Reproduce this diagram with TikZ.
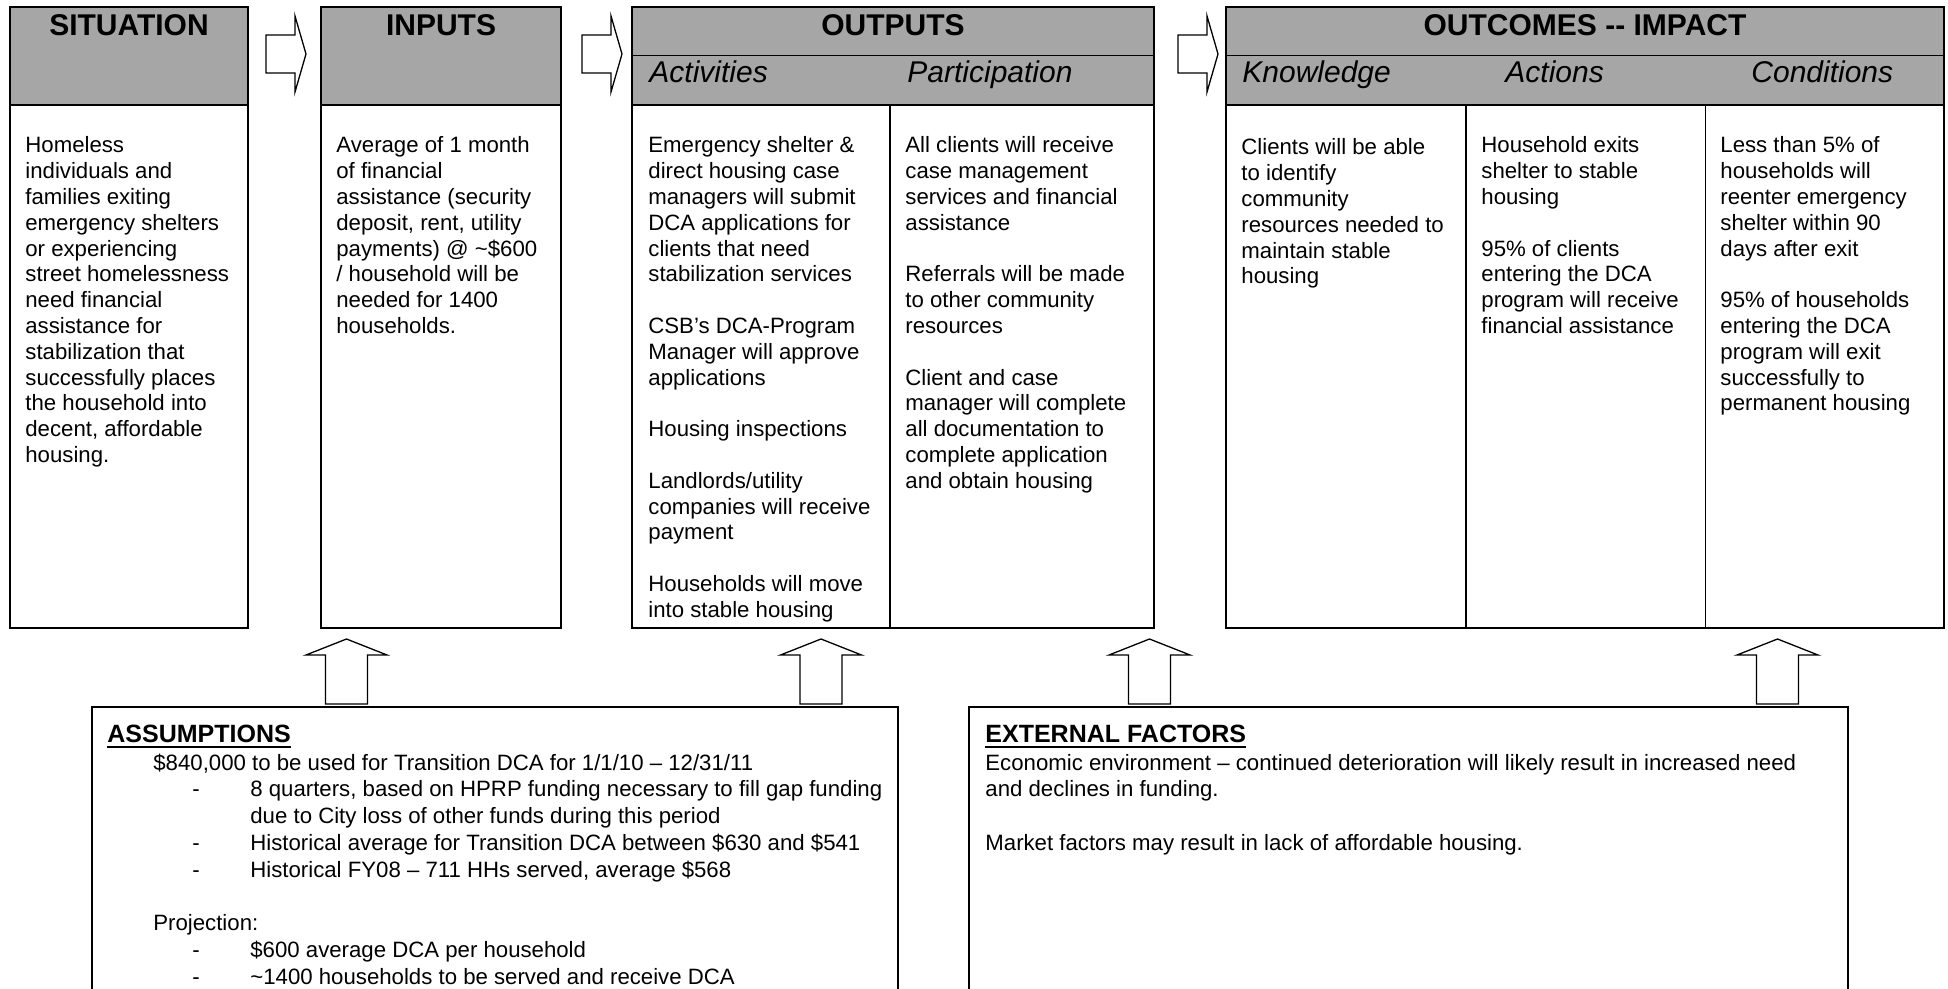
\documentclass[tikz,border=0pt]{standalone}
\usepackage{fontspec}
\setmainfont{Liberation Sans}
\definecolor{headgray}{RGB}{166,166,166}
\newcommand\BodyFnt{\fontsize{11.1pt}{12.9pt}\selectfont}
\newcommand\NoteFnt{\fontsize{11.1pt}{13.4pt}\selectfont}
\newcommand\HeadFnt{\fontsize{15pt}{18pt}\selectfont\bfseries}
\newcommand\SubFnt{\fontsize{15pt}{18pt}\selectfont\itshape}
\newcommand\NoteHeadFnt{\fontsize{12.5pt}{15pt}\selectfont\bfseries}
\newcommand\Dash{\makebox[29pt][l]{-}}

\begin{document}
\begin{tikzpicture}[x=0.5pt,y=-0.5pt,
  boxframe/.style={draw=black, line width=1pt},
  colrule/.style={draw=black, line width=0.9pt},
  blockarrow/.style={draw=black, line width=0.65pt, fill=white, line join=miter},
  headtitle/.style={anchor=base, inner sep=0pt, font=\HeadFnt},
  subhead/.style={anchor=base west, inner sep=0pt, font=\SubFnt},
  bodytext/.style={anchor=base west, inner sep=0pt, font=\BodyFnt},
  notetext/.style={anchor=base west, inner sep=0pt, font=\NoteFnt},
  notehead/.style={anchor=base west, inner sep=0pt, font=\NoteHeadFnt},
  rblock/.pic={\draw[blockarrow] (0,35) -- (29,35) -- (29,16) -- (40,54) -- (29,92) -- (29,73) -- (0,73) -- cycle;},
  ublock/.pic={\draw[blockarrow] (0,0) -- (40.5,16) -- (21,16) -- (21,65) -- (-21,65) -- (-21,16) -- (-40.5,16) -- cycle;}
]
\useasboundingbox[fill=white] (0,0) rectangle (1948,989);

% grey header bands
\fill[headgray] (10,7.5) rectangle (248,105);
\fill[headgray] (321,7.5) rectangle (561,105);
\fill[headgray] (632,7.5) rectangle (1154,105);
\fill[headgray] (1226,7.5) rectangle (1944,105);

% column frames of the logic model
\draw[boxframe] (10,7.5) rectangle (248,627.5);
\draw[boxframe] (321,7.5) rectangle (561,627.5);
\draw[boxframe] (632,7.5) rectangle (1154,627.5);
\draw[boxframe] (1226,7.5) rectangle (1944,627.5);
\draw[colrule] (10,105) -- (248,105);
\draw[colrule] (321,105) -- (561,105);
\draw[colrule] (632,55.5) -- (1154,55.5);
\draw[colrule] (632,105) -- (1154,105);
\draw[colrule] (1226,55.5) -- (1944,55.5);
\draw[colrule] (1226,105) -- (1944,105);
\draw[colrule] (890,105) -- (890,627.5);
\draw[colrule] (1466,105) -- (1466,627.5);
\draw[colrule] (1705.5,105) -- (1705.5,627.5);

% block arrows between the columns
\pic at (266,0) {rblock};
\pic at (582,0) {rblock};
\pic at (1178,0) {rblock};

% block arrows from the lower boxes
\pic at (346.5,639) {ublock};
\pic at (821,639) {ublock};
\pic at (1149.5,639) {ublock};
\pic at (1777.5,639) {ublock};

% lower boxes, running off the bottom edge
\draw[boxframe] (92,989) -- (92,706.5) -- (898,706.5) -- (898,989);
\draw[boxframe] (969,989) -- (969,706.5) -- (1848,706.5) -- (1848,989);

% headings
\node[headtitle] (hSit) at (129,35.5) {SITUATION};
\node[headtitle] (hInp) at (441,35.5) {INPUTS};
\node[headtitle] (hOut) at (893,35.5) {OUTPUTS};
\node[headtitle] (hImp) at (1585,35.5) {OUTCOMES {-}{-} IMPACT};
\node[subhead] (sAct) at (649,83) {Activities};
\node[subhead] (sPar) at (907,83) {Participation};
\node[subhead] (sKno) at (1242,83) {Knowledge};
\node[subhead] (sAcn) at (1505,83) {Actions};
\node[subhead] (sCon) at (1751,83) {Conditions};

% column contents
\node[bodytext] (tSit) at (25,153) {\parbox[t]{150pt}{\raggedright
Homeless\\individuals and\\families exiting\\emergency shelters\\or experiencing\\street homelessness\\need financial\\assistance for\\stabilization that\\successfully places\\the household into\\decent, affordable\\housing.}};

\node[bodytext] (tInp) at (336,153) {\parbox[t]{150pt}{\raggedright
Average of 1 month\\of financial\\assistance (security\\deposit, rent, utility\\payments) @ \textasciitilde\$600\\/ household will be\\needed for 1400\\households.}};

\node[bodytext] (tAct) at (648,153) {\parbox[t]{150pt}{\raggedright
Emergency shelter \&\\direct housing case\\managers will submit\\DCA applications for\\clients that need\\stabilization services\\[\baselineskip]
CSB’s DCA-Program\\Manager will approve\\applications\\[\baselineskip]
Housing inspections\\[\baselineskip]
Landlords/utility\\companies will receive\\payment\\[\baselineskip]
Households will move\\into stable housing}};

\node[bodytext] (tPar) at (905,153) {\parbox[t]{150pt}{\raggedright
All clients will receive\\case management\\services and financial\\assistance\\[\baselineskip]
Referrals will be made\\to other community\\resources\\[\baselineskip]
Client and case\\manager will complete\\all documentation to\\complete application\\and obtain housing}};

\node[bodytext] (tKno) at (1241,155) {\parbox[t]{150pt}{\raggedright
Clients will be able\\to identify\\community\\resources needed to\\maintain stable\\housing}};

\node[bodytext] (tAcn) at (1481,153) {\parbox[t]{150pt}{\raggedright
Household exits\\shelter to stable\\housing\\[\baselineskip]
95\% of clients\\entering the DCA\\program will receive\\financial assistance}};

\node[bodytext] (tCon) at (1720,153) {\parbox[t]{150pt}{\raggedright
Less than 5\% of\\households will\\reenter emergency\\shelter within 90\\days after exit\\[\baselineskip]
95\% of households\\entering the DCA\\program will exit\\successfully to\\permanent housing}};

% assumptions
\node[notehead] (nAss) at (107,742) {ASSUMPTIONS};
\draw[line width=1.2pt] ([yshift=-2.6pt]nAss.base west) -- ([yshift=-2.6pt]nAss.base east);
\node[notetext] (tAss) at (107,770) {\parbox[t]{450pt}{\raggedright
\hspace*{23pt}\$840,000 to be used for Transition DCA for 1/1/10 – 12/31/11\\
\hspace*{42.5pt}\Dash 8 quarters, based on HPRP funding necessary to fill gap funding\\
\hspace*{71.5pt}due to City loss of other funds during this period\\
\hspace*{42.5pt}\Dash Historical average for Transition DCA between \$630 and \$541\\
\hspace*{42.5pt}\Dash Historical FY08 – 711 HHs served, average \$568\\[\baselineskip]
\hspace*{23pt}Projection:\\
\hspace*{42.5pt}\Dash \$600 average DCA per household\\
\hspace*{42.5pt}\Dash \textasciitilde1400 households to be served and receive DCA}};

% external factors
\node[notehead] (nExt) at (985,742) {EXTERNAL FACTORS};
\draw[line width=1.2pt] ([yshift=-2.6pt]nExt.base west) -- ([yshift=-2.6pt]nExt.base east);
\node[notetext] (tExt) at (985,770) {\parbox[t]{450pt}{\raggedright
Economic environment – continued deterioration will likely result in increased need\\
and declines in funding.\\[\baselineskip]
Market factors may result in lack of affordable housing.}};
\end{tikzpicture}
\end{document}
